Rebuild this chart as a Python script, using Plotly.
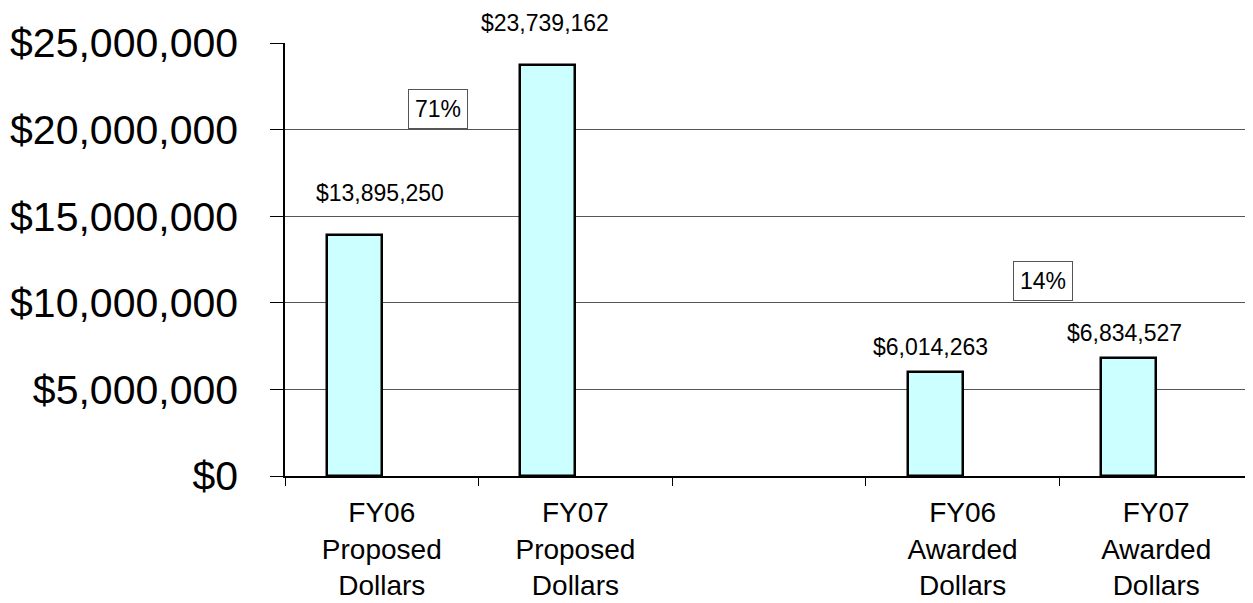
import plotly.graph_objects as go

categories = ["FY06<br>Proposed<br>Dollars", "FY07<br>Proposed<br>Dollars", " ",
              "FY06<br>Awarded<br>Dollars", "FY07<br>Awarded<br>Dollars"]
bar_categories = [categories[0], categories[1], categories[3], categories[4]]
values = [13895250, 23739162, 6014263, 6834527]
value_labels = ["$13,895,250", "$23,739,162", "$6,014,263", "$6,834,527"]
pct_labels = ["71%", "14%"]
y_ticks = [0, 5000000, 10000000, 15000000, 20000000, 25000000]
y_tick_text = ["$0", "$5,000,000", "$10,000,000", "$15,000,000", "$20,000,000", "$25,000,000"]

FONT = "Liberation Sans, Arial, sans-serif"
BAR_W = 0.284

fig = go.Figure()
fig.add_trace(go.Bar(
    x=bar_categories, y=values,
    width=BAR_W, offset=-BAR_W,
    marker=dict(color="#CCFFFF", line=dict(color="black", width=2.5)),
    showlegend=False, hoverinfo="skip",
))

# data labels
label_xshift = [-2, -30, -32, -32]
label_yshift = [42, 42, 25, 25]
for cat, v, t, xs, ys in zip(bar_categories, values, value_labels, label_xshift, label_yshift):
    fig.add_annotation(x=cat, y=v, text=t, showarrow=False, xshift=xs, yshift=ys,
                       yanchor="middle", font=dict(family=FONT, size=23, color="black"))

# percentage boxes
pct_pos = [(0.29, 21180000), (3.415, 11250000)]
for (px, py), t in zip(pct_pos, pct_labels):
    fig.add_annotation(x=px, y=py, text=t, showarrow=False,
                       font=dict(family=FONT, size=23, color="black"),
                       bordercolor="#555", borderwidth=1, borderpad=6, bgcolor="white")

fig.update_layout(
    width=1245, height=595,
    margin=dict(l=277, r=0, t=35, b=127),
    paper_bgcolor="white", plot_bgcolor="white",
    font=dict(family=FONT, color="black"),
    bargap=0,
)
fig.update_xaxes(
    type="category", categoryorder="array", categoryarray=categories,
    range=[-0.5, 4.5], automargin=False,
    tickson="boundaries", ticks="outside", ticklen=8, tickcolor="black", tickwidth=1,
    showline=True, linecolor="black", linewidth=1.5,
    showgrid=False,
    tickfont=dict(family=FONT, size=28, color="black"),
    ticklabelstandoff=11,
)
fig.update_yaxes(
    range=[0, 25000000], automargin=False,
    tickvals=y_ticks, ticktext=y_tick_text,
    ticks="outside", ticklen=13, tickcolor="black", tickwidth=1,
    showline=True, linecolor="black", linewidth=1.5,
    showgrid=True, gridcolor="#555", gridwidth=1,
    zeroline=False,
    tickfont=dict(family=FONT, size=41, color="black"),
    ticklabelstandoff=24,
)

fig.write_html("out.html")
